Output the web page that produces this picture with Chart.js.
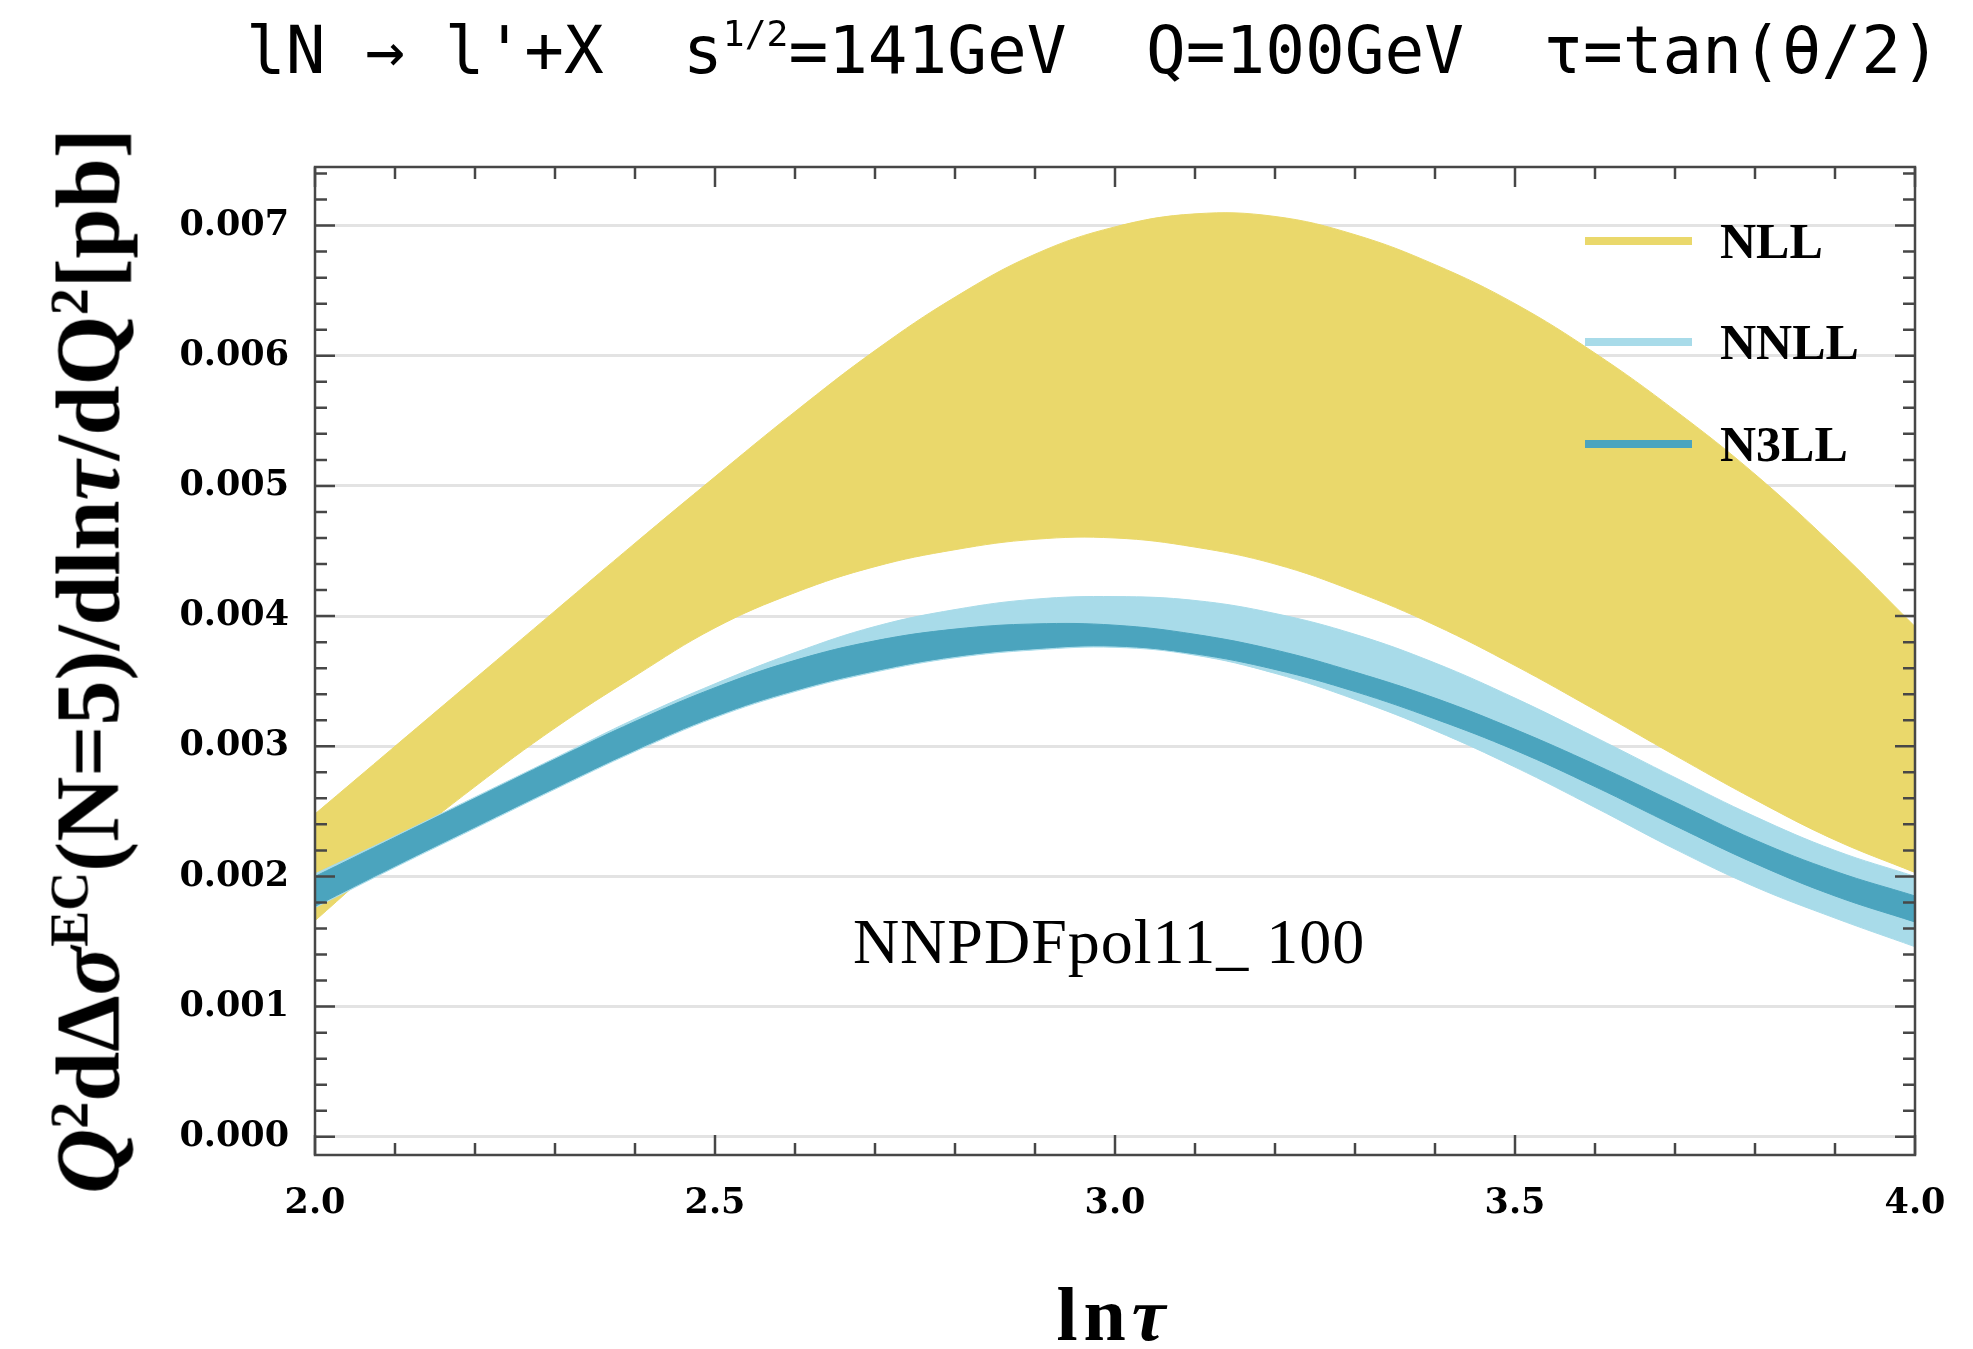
<!DOCTYPE html>
<html>
<head>
<meta charset="utf-8">
<script src="https://cdn.jsdelivr.net/npm/chart.js@4.4.1/dist/chart.umd.min.js"></script>
<style>
    html, body { margin: 0; padding: 0; background: #fff; }
    #wrap { position: relative; width: 1973px; height: 1349px; overflow: hidden; }
    #bandChart { position: absolute; left: 0; top: 0; }
    .txt { position: absolute; white-space: pre; color: #000; line-height: 1; }
    .txt sup { line-height: 0; font-size: 0.6em; }
    #topTitle { left: 246px; top: 12px; font: 66px "DejaVu Sans Mono", monospace; }
    #topTitle sup { font-size: 0.55em; vertical-align: 0.75em; }
    #yTitle { left: 88px; top: 661px; transform: translate(-50%, -50%) rotate(-90deg); font: bold 90px "Liberation Serif", serif; }
    #xTitle { left: 1114px; top: 1314px; transform: translate(-50%, -50%); font: bold 76px "Liberation Serif", serif; letter-spacing: 6px; }
    #pdfNote { left: 1109px; top: 942px; transform: translate(-50%, -50%); font: 64px "Liberation Serif", serif; letter-spacing: 1px; }
    #legend { position: absolute; left: 1585px; top: 190px; }
    .row { display: flex; align-items: center; height: 101.5px; }
    .sw { display: inline-block; width: 107px; height: 8px; margin-right: 28px; }
    .lab { font: bold 50px "Liberation Serif", serif; line-height: 1; }
</style>
</head>
<body>
<div id="wrap">
    <canvas id="bandChart" width="1973" height="1349"></canvas>
    <div id="topTitle" class="txt">lN → l'+X  s<sup>1/2</sup>=141GeV  Q=100GeV  τ=tan(θ/2)</div>
    <div id="yTitle" class="txt"><i>Q</i><sup>2</sup>dΔ<i>σ</i><sup>EC</sup>(N=5)/dln<i>τ</i>/dQ<sup>2</sup>[pb]</div>
    <div id="xTitle" class="txt">ln<i>τ</i></div>
    <div id="pdfNote" class="txt">NNPDFpol11_ 100</div>
    <div id="legend"></div>
</div>
<script>
const lnTau = [2.0, 2.1, 2.2, 2.3, 2.4, 2.5, 2.6, 2.7, 2.8, 2.9, 3.0, 3.1, 3.2, 3.3, 3.4, 3.5, 3.6, 3.7, 3.8, 3.9, 4.0];

const nllUpper = [0.00248, 0.00300, 0.00352, 0.00404, 0.00456, 0.00507, 0.00557, 0.00604, 0.00645, 0.00678, 0.00699,
    0.00709, 0.00707, 0.00693, 0.00670, 0.00640, 0.00602, 0.00558, 0.00509, 0.00453, 0.00392];
const nllLower = [0.00166, 0.00220, 0.00269, 0.00314, 0.00354, 0.00391, 0.00418, 0.00438, 0.00451, 0.00459, 0.00460,
    0.00453, 0.00440, 0.00419, 0.00393, 0.00362, 0.00328, 0.00293, 0.00259, 0.00228, 0.00203];

const nnllUpper = [0.00202, 0.00231, 0.00261, 0.00291, 0.00321, 0.00348, 0.00372, 0.00392, 0.00405, 0.00413, 0.00415,
    0.00412, 0.00402, 0.00386, 0.00364, 0.00337, 0.00307, 0.00276, 0.00246, 0.00220, 0.00200];
const nnllLower = [0.00176, 0.00207, 0.00237, 0.00267, 0.00296, 0.00322, 0.00342, 0.00357, 0.00368, 0.00374, 0.00376,
    0.00370, 0.00356, 0.00336, 0.00312, 0.00284, 0.00253, 0.00221, 0.00192, 0.00168, 0.00146];

const n3llUpper = [0.00200, 0.00230, 0.00260, 0.00290, 0.00319, 0.00345, 0.00366, 0.00381, 0.00390, 0.00394, 0.00393,
    0.00386, 0.00374, 0.00357, 0.00337, 0.00313, 0.00286, 0.00257, 0.00228, 0.00204, 0.00185];
const n3llLower = [0.00177, 0.00208, 0.00238, 0.00268, 0.00297, 0.00323, 0.00343, 0.00358, 0.00369, 0.00375, 0.00377,
    0.00371, 0.00359, 0.00342, 0.00321, 0.00297, 0.00269, 0.00239, 0.00210, 0.00185, 0.00165];

const seriesNames = ['NLL', 'NNLL', 'N3LL'];
const seriesColors = ['#ead86b', '#a8dbe9', '#4ba4be'];

const xTickValues = [2.0, 2.5, 3.0, 3.5, 4.0];
const xTickLabels = ['2.0', '2.5', '3.0', '3.5', '4.0'];
const yTickValues = [0, 0.001, 0.002, 0.003, 0.004, 0.005, 0.006, 0.007];
const yTickLabels = ['0.000', '0.001', '0.002', '0.003', '0.004', '0.005', '0.006', '0.007'];

const toPoints = (ys) => lnTau.map((x, i) => ({ x, y: ys[i] }));

function band(color, upper, lower) {
    const common = {
        borderColor: color,
        borderWidth: 1,
        pointRadius: 0,
        tension: 0.4,
    };
    return [
        { ...common, data: toPoints(upper), fill: '+1', backgroundColor: color },
        { ...common, data: toPoints(lower), fill: false },
    ];
}

// first dataset is painted last, so the N3LL band goes first
const datasets = [
    ...band(seriesColors[2], n3llUpper, n3llLower),
    ...band(seriesColors[1], nnllUpper, nnllLower),
    ...band(seriesColors[0], nllUpper, nllLower),
];

// frame with inward ticks on all four sides
const frameTicks = {
    id: 'frameTicks',
    afterDraw(chart) {
        const { ctx, chartArea: a, scales: { x, y } } = chart;
        ctx.save();
        ctx.strokeStyle = '#474747';
        ctx.lineWidth = 2.5;
        ctx.beginPath();
        for (let k = 0; k <= 20; k++) {
            const v = 2 + k * 0.1;
            const len = k % 5 === 0 ? 20 : 12;
            const px = x.getPixelForValue(v);
            ctx.moveTo(px, a.bottom);
            ctx.lineTo(px, a.bottom - len);
            ctx.moveTo(px, a.top);
            ctx.lineTo(px, a.top + len);
        }
        for (let k = 0; k <= 37; k++) {
            const v = k * 0.0002;
            const len = k % 5 === 0 ? 20 : 12;
            const py = y.getPixelForValue(v);
            ctx.moveTo(a.left, py);
            ctx.lineTo(a.left + len, py);
            ctx.moveTo(a.right, py);
            ctx.lineTo(a.right - len, py);
        }
        ctx.stroke();
        ctx.strokeRect(a.left, a.top, a.right - a.left, a.bottom - a.top);
        ctx.restore();
    },
};

const tickFont = { family: '"DejaVu Serif", serif', size: 35, weight: 'bold' };

new Chart(document.getElementById('bandChart'), {
    type: 'line',
    data: { datasets },
    options: {
        responsive: false,
        animation: false,
        devicePixelRatio: 1,
        layout: { padding: { top: 167, right: 58, left: 0, bottom: 0 } },
        plugins: {
            legend: { display: false },
            tooltip: { enabled: false },
        },
        scales: {
            x: {
                type: 'linear',
                min: 2,
                max: 4,
                afterFit: (s) => { s.height = 194; },
                afterBuildTicks: (s) => { s.ticks = xTickValues.map((value) => ({ value })); },
                ticks: {
                    callback: (v, i) => xTickLabels[i],
                    color: '#000',
                    font: tickFont,
                    padding: 20,
                    maxRotation: 0,
                },
                grid: { display: false },
                border: { display: false },
            },
            y: {
                type: 'linear',
                min: -0.00014,
                max: 0.00745,
                afterFit: (s) => { s.width = 315; },
                afterBuildTicks: (s) => { s.ticks = yTickValues.map((value) => ({ value })); },
                ticks: {
                    callback: (v, i) => yTickLabels[i],
                    color: '#000',
                    font: tickFont,
                    padding: 26,
                },
                grid: { color: '#e3e3e3', lineWidth: 3, drawTicks: false },
                border: { display: false },
            },
        },
    },
    plugins: [frameTicks],
});

const legendEl = document.getElementById('legend');
seriesNames.forEach((name, i) => {
    const row = document.createElement('div');
    row.className = 'row';
    row.innerHTML = `<span class="sw" style="background:${seriesColors[i]}"></span><span class="lab">${name}</span>`;
    legendEl.appendChild(row);
});
</script>
</body>
</html>
